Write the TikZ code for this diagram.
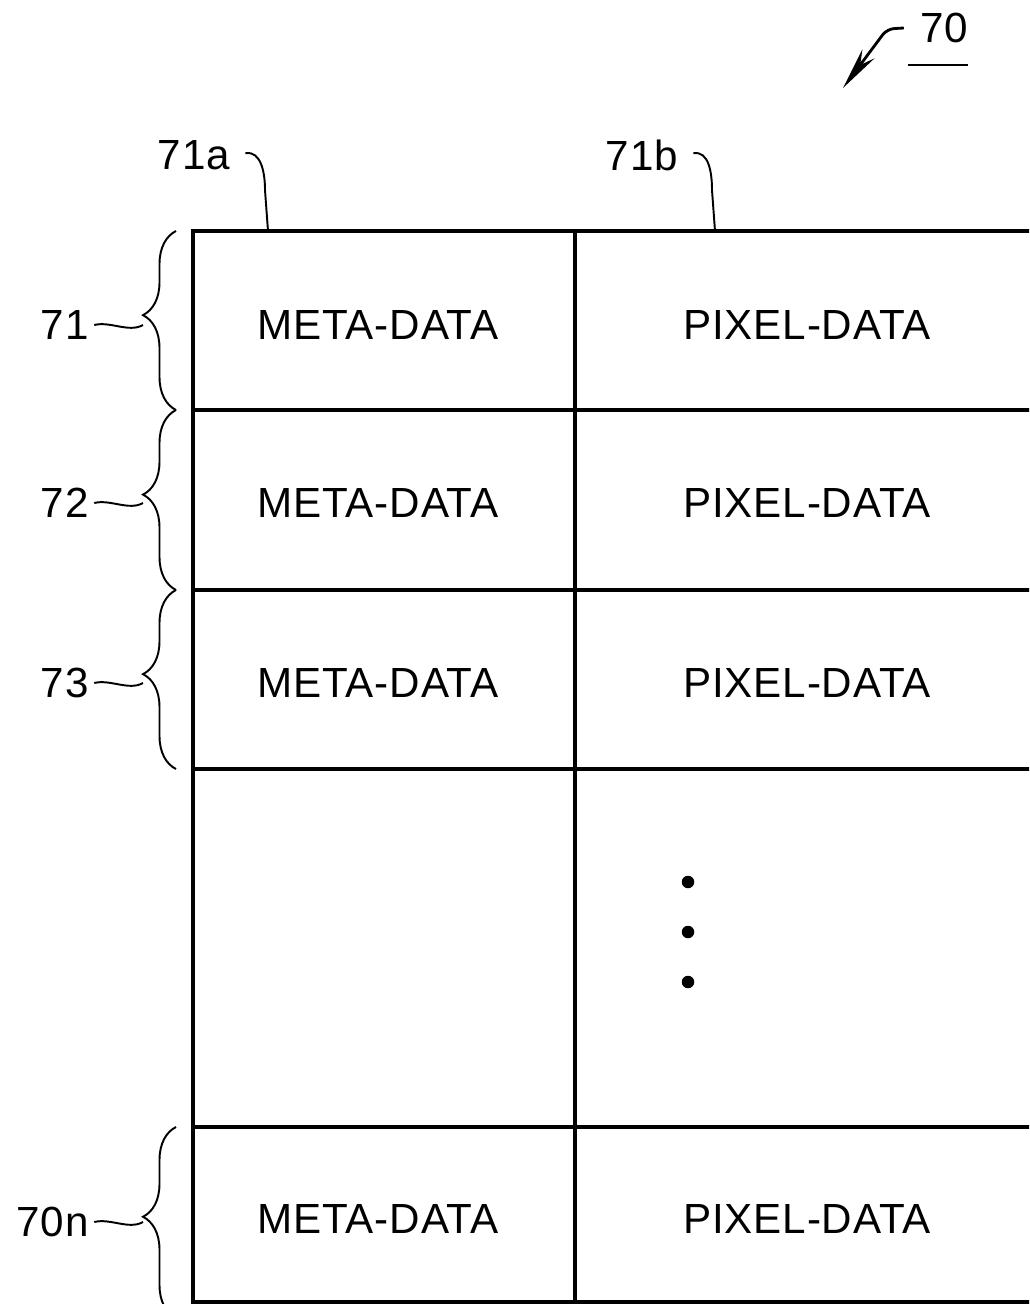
\documentclass[tikz,border=0pt]{standalone}
\usepackage{fontspec}
\newfontfamily\patfont[LetterSpace=2]{Liberation Sans}
\usetikzlibrary{decorations.pathreplacing,arrows.meta}

\begin{document}
\begin{tikzpicture}[x=0.02cm,y=-0.02cm,
  every node/.style={font=\patfont\fontsize{24}{28}\selectfont, inner sep=0pt},
  gridline/.style={line width=2.2pt},
  leader/.style={line width=1.1pt},
  rowbrace/.style={leader, decorate,
    decoration={brace, amplitude=0.66cm, aspect=0.53}},
  dot/.style={circle, fill=black, minimum size=0.25cm, inner sep=0pt},
]
\useasboundingbox (0,0) rectangle (1029,1304);
\clip (0,0) rectangle (1029,1304);

% table
\draw[gridline] (1040,231) -- (193,231) -- (193,1312);
\draw[gridline] (575,231) -- (575,1312);
\foreach \y in {410,590,769,1127,1302}
  \draw[gridline] (193,\y) -- (1040,\y);

% cells
\node (meta1)  at (378,325)  {META-DATA};
\node (pixel1) at (807,325)  {PIXEL-DATA};
\node (meta2)  at (378,503)  {META-DATA};
\node (pixel2) at (807,503)  {PIXEL-DATA};
\node (meta3)  at (378,683)  {META-DATA};
\node (pixel3) at (807,683)  {PIXEL-DATA};
\node (metan)  at (378,1219) {META-DATA};
\node (pixeln) at (807,1219) {PIXEL-DATA};

\foreach \y [count=\i] in {882,932,982}
  \node[dot] (dot\i) at (688,\y) {};

% row braces
\foreach \name/\top/\bot/\mid in {71/231/410/325, 72/410/590/503,
                                  73/590/769/683, 70n/1127/1318/1222} {
  \draw[rowbrace] (176,\bot) -- (176,\top);
  \coordinate (tip\name) at (143,\mid);
  \node[anchor=east] (lab\name) at (89,\mid) {\name};
  \draw[leader] ([xshift=3pt]lab\name.east)
    .. controls +(16,-4) and +(-14,8) .. (tip\name);
}

% column labels
\node (lab71a) at (194,155) {71a};
\node (lab71b) at (642,155) {71b};
\coordinate (col71a) at (268,231);
\coordinate (col71b) at (715,231);
\draw[leader] ([xshift=0.3cm,yshift=1pt]lab71a.east)
  to[out=10,in=90] (265,190) -- (col71a);
\draw[leader] ([xshift=0.3cm,yshift=1pt]lab71b.east)
  to[out=10,in=90] (712,190) -- (col71b);

% figure number
\node (fig70) at (944,28) {70};
\coordinate (figtip) at (843,88);
\draw[leader] ([shift={(-12,22)}]fig70.south west)
  -- ([shift={(0,22)}]fig70.south east);
\draw[line width=1.6pt, rounded corners=4pt, -{Stealth[length=0.85cm,width=0.3cm]}]
  ([xshift=-0.32cm]fig70.west) -- (887,29) -- (figtip);
\end{tikzpicture}
\end{document}
